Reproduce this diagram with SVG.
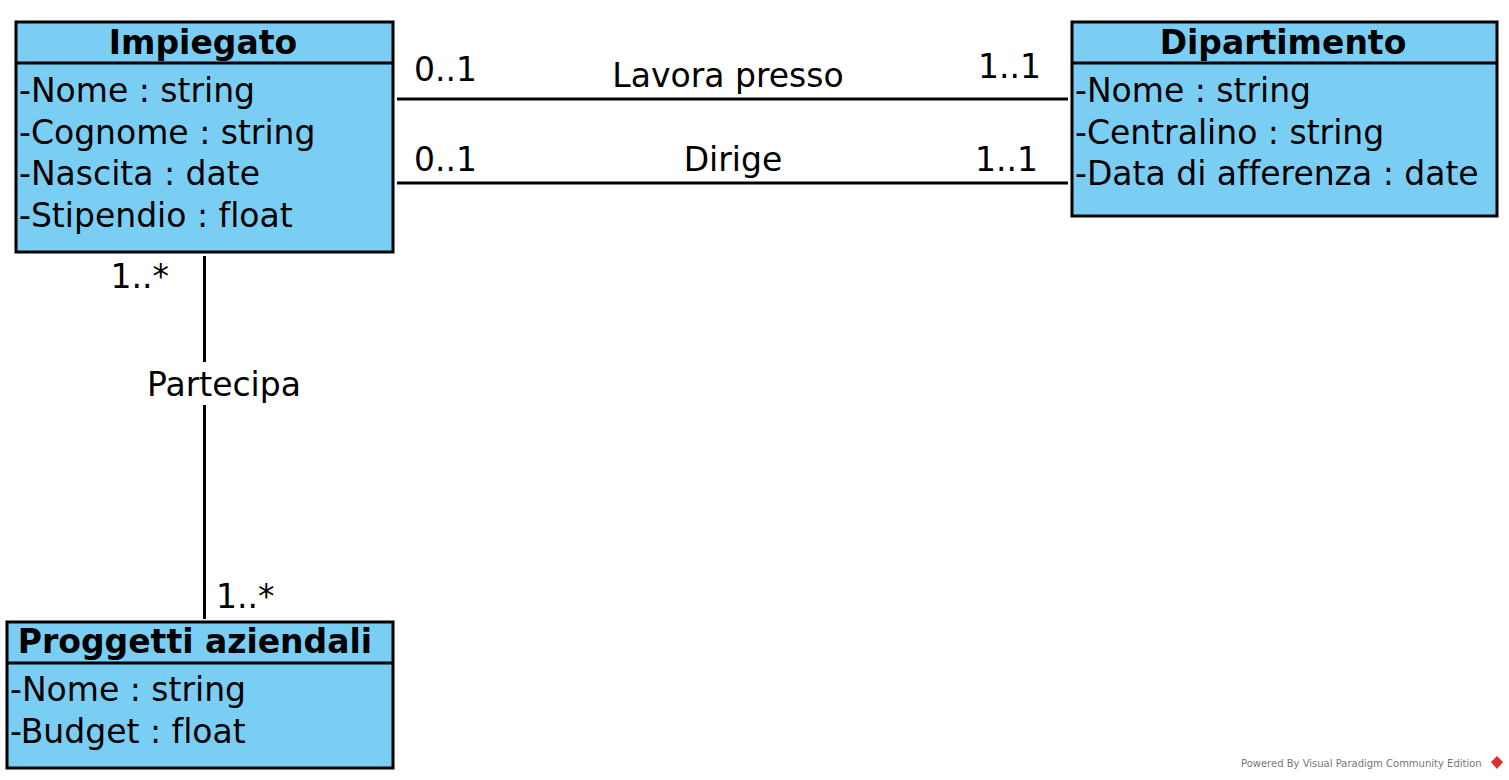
<svg xmlns="http://www.w3.org/2000/svg" width="1509" height="780" viewBox="0 0 1509 780">
<style>
text{font-variant-ligatures:none}
.box{fill:#7ACEF4;stroke:#000;stroke-width:3}
.div{stroke:#000;stroke-width:3}
.t{font-family:"DejaVu Sans",sans-serif;font-size:33px;font-weight:bold;fill:#000;text-anchor:middle}
.a{font-family:"DejaVu Sans",sans-serif;font-size:33px;fill:#000}
.l{font-family:"DejaVu Sans",sans-serif;font-size:33px;fill:#000}
.c{stroke:#000;stroke-width:3;fill:none}
.wm{font-family:"DejaVu Sans",sans-serif;font-size:10px;fill:#777}
</style>
<rect width="1509" height="780" fill="#fff"/>
<g id="connectors">
<line class="c" x1="397" y1="99" x2="1068" y2="99"/>
<line class="c" x1="397" y1="183" x2="1068" y2="183"/>
<line class="c" x1="204.5" y1="256" x2="204.5" y2="362"/>
<line class="c" x1="204.5" y1="405" x2="204.5" y2="619"/>
<text class="l" x="414" y="81">0..1</text>
<text class="l" x="728" y="87" text-anchor="middle">Lavora presso</text>
<text class="l" x="1041" y="78" text-anchor="end">1..1</text>
<text class="l" x="414" y="171">0..1</text>
<text class="l" x="733" y="171" text-anchor="middle">Dirige</text>
<text class="l" x="1038" y="171" text-anchor="end">1..1</text>
<text class="l" x="169" y="288" text-anchor="end">1..*</text>
<text class="l" x="224" y="396" text-anchor="middle">Partecipa</text>
<text class="l" x="216" y="608">1..*</text>
</g>
<g id="impiegato">
<rect class="box" x="16" y="22" width="377" height="230"/>
<line class="div" x1="16" y1="63" x2="393" y2="63"/>
<text class="t" x="203" y="54">Impiegato</text>
<text class="a" x="19" y="102">-Nome : string</text>
<text class="a" x="19" y="143.5">-Cognome : string</text>
<text class="a" x="19" y="185">-Nascita : date</text>
<text class="a" x="19" y="226.5">-Stipendio : float</text>
</g>
<g id="dipartimento">
<rect class="box" x="1072" y="22" width="425" height="194"/>
<line class="div" x1="1072" y1="63" x2="1497" y2="63"/>
<text class="t" x="1283" y="54">Dipartimento</text>
<text class="a" x="1075" y="102">-Nome : string</text>
<text class="a" x="1075" y="143.5">-Centralino : string</text>
<text class="a" x="1075" y="185">-Data di afferenza : date</text>
</g>
<g id="progetti">
<rect class="box" x="7" y="622" width="386" height="146"/>
<line class="div" x1="7" y1="663" x2="393" y2="663"/>
<text class="t" x="195" y="653">Proggetti aziendali</text>
<text class="a" x="10" y="701">-Nome : string</text>
<text class="a" x="10" y="743">-Budget : float</text>
</g>
<g id="watermark">
<text class="wm" x="1241" y="767">Powered By Visual Paradigm Community Edition</text>
<polygon points="1497,756 1503,762 1497,769 1491,762" fill="#d9302c"/>
</g>
</svg>
